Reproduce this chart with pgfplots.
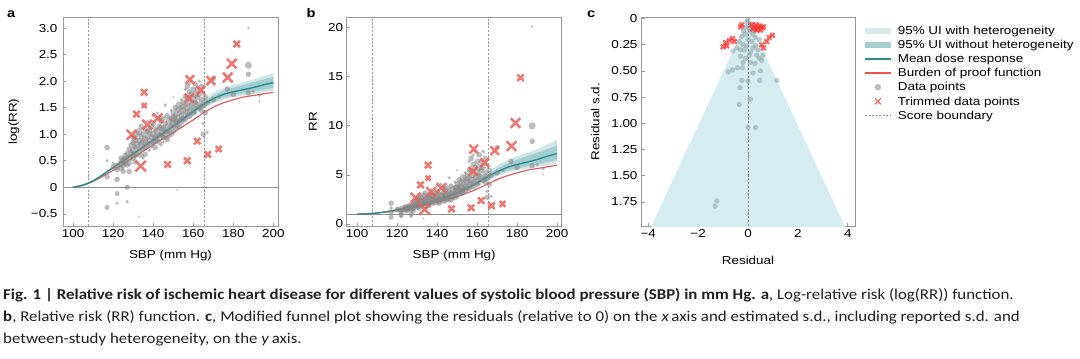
\documentclass[border=0pt]{standalone}
\usepackage{fontspec}
\setmainfont{Liberation Sans}[FakeStretch=1.17]
\newfontfamily\capfont{Carlito}[FakeStretch=1.125]
\usepackage{pgfplots}
\pgfplotsset{compat=1.18}
\usepackage{pgfplotstable}

\definecolor{meanc}{HTML}{1F8A8A}
\definecolor{bopc}{HTML}{E06060}
\definecolor{band1}{HTML}{CFE5E7}
\definecolor{band2}{HTML}{A3CDCF}
\definecolor{ptc}{HTML}{858585}
\definecolor{trimc}{HTML}{EC5F58}
\definecolor{framec}{HTML}{9A9A9A}
\definecolor{funnelc}{HTML}{D5EDF1}
\definecolor{trimc2}{HTML}{FF3030}
\definecolor{ptc2}{HTML}{8FA3A6}
\definecolor{captc}{HTML}{231F20}
\definecolor{legband1}{HTML}{D8E9EA}
\definecolor{legband2}{HTML}{A6CFD0}
\definecolor{legmean}{HTML}{2A8A8A}
\definecolor{legred}{HTML}{F45050}
\definecolor{legdot}{HTML}{BDBDBD}
\definecolor{legx}{HTML}{FF6060}
\definecolor{legdash}{HTML}{8C8C8C}

\newcommand\ticksize{\fontsize{11.5}{13}\selectfont}
\newcommand\labsize{\fontsize{11.5}{13}\selectfont}

\pgfplotstableread{
x mean bop
100 0 0
105 0.04 0.04
110 0.12 0.11
115 0.24 0.21
120 0.37 0.32
125 0.50 0.44
130 0.63 0.56
135 0.76 0.68
140 0.89 0.80
145 1.02 0.92
150 1.15 1.03
155 1.29 1.15
160 1.43 1.27
165 1.56 1.40
170 1.67 1.51
175 1.75 1.59
180 1.80 1.65
185 1.84 1.70
190 1.88 1.73
195 1.93 1.76
200 1.97 1.79
}\curves

% band with heterogeneity: upper edge 100->200, lower edge 200->100
\pgfplotstableread{
x y
100 0
110 0.125
120 0.395
130 0.665
140 0.935
150 1.21
155 1.36
160 1.51
165 1.65
170 1.78
175 1.87
180 1.93
185 1.98
190 2.03
195 2.09
200 2.15
200 1.82
195 1.79
190 1.76
185 1.73
180 1.70
175 1.65
170 1.58
165 1.48
160 1.35
155 1.22
150 1.09
140 0.845
130 0.595
120 0.345
110 0.115
100 0
}\bandA

% band without heterogeneity
\pgfplotstableread{
x y
100 0
110 0.122
120 0.38
130 0.645
140 0.91
150 1.175
155 1.32
160 1.47
165 1.61
170 1.73
175 1.82
180 1.88
185 1.93
190 1.98
195 2.03
200 2.08
200 1.87
195 1.84
190 1.80
185 1.77
180 1.73
175 1.69
170 1.61
165 1.51
160 1.39
155 1.26
150 1.125
140 0.87
130 0.615
120 0.36
110 0.118
100 0
}\bandB

\pgfplotstableread{
x y s
117 0.75 2.8
117 0.5 1.8
117 0.2 2.8
117 -0.38 2.6
120 0.38 2.8
120 0.45 1.8
122 0.15 2.8
122 -0.12 2.6
122 -0.30 1.8
122 0.40 3.6
122 0.33 2.8
124 0.45 3.6
124 0.55 2.8
124 0.36 2.8
125 0.50 3.6
125 0.40 2.8
125 0.30 2.8
126 0.60 2.8
126 0.52 3.6
126 0.45 2.8
127 0.0 2.6
127 -0.27 1.8
127 0.42 2.8
127 0.64 2.8
128 0.55 3.6
128 0.72 2.8
128 0.45 2.8
128 0.30 2.8
129 0.65 2.8
129 0.80 2.8
130 0.85 2.8
130 0.70 3.6
130 0.55 2.8
130 0.62 2.8
130 0.95 2.8
131 0.90 3.6
131 0.76 2.8
131 0.48 2.8
131 0.60 2.8
132 0.80 3.6
132 1.00 2.8
132 0.62 2.8
133 0.70 2.8
133 1.05 3.6
133 0.88 2.8
133 -0.55 1.0
134 0.95 2.8
134 0.60 2.8
134 1.15 2.8
134 0.80 3.6
135 0.85 3.6
135 1.00 2.8
135 0.72 2.8
135 0.55 1.8
136 1.10 2.8
136 0.90 3.6
136 0.75 2.8
136 0.62 2.8
137 0.95 2.8
137 0.80 2.8
137 1.25 1.8
137 1.05 2.8
138 1.05 3.6
138 0.88 2.8
138 0.70 1.8
139 1.15 2.8
139 0.95 2.8
139 0.80 3.6
140 1.00 3.6
140 0.85 2.8
140 1.20 2.8
140 1.35 1.8
141 0.95 2.8
141 1.10 2.8
141 0.75 2.8
141 0.88 3.6
142 1.05 3.6
142 0.90 2.8
142 1.40 1.8
143 1.15 2.8
143 0.98 2.8
143 0.85 2.8
143 1.30 2.8
144 1.00 2.8
144 1.25 2.8
144 0.80 1.8
144 1.12 3.6
145 1.10 3.6
145 0.95 2.8
145 1.30 2.8
145 0.85 1.8
146 1.20 2.8
146 1.05 2.8
146 1.55 1.8
146 0.95 3.6
147 1.15 2.8
147 0.90 2.8
147 1.35 2.8
147 1.05 2.8
148 1.25 3.6
148 1.05 2.8
148 0.95 1.8
149 1.30 2.8
149 1.15 2.8
149 1.45 1.8
149 1.00 2.8
150 1.20 3.6
150 1.40 2.8
150 1.05 2.8
150 1.70 1.0
150 1.30 3.6
151 1.35 2.8
151 1.50 2.8
151 1.25 2.8
151 1.12 2.8
152 1.30 3.6
152 1.45 2.8
152 -0.05 1.0
152 1.15 2.8
153 1.40 2.8
153 1.55 3.6
153 1.25 2.8
153 1.15 2.8
154 1.50 2.8
154 1.35 2.8
154 1.65 1.8
154 1.25 3.6
155 1.45 3.6
155 1.60 2.8
155 1.30 2.8
156 1.55 2.8
156 1.40 2.8
156 1.85 1.8
156 1.28 2.8
156 1.70 2.8
157 1.50 3.6
157 1.70 2.8
157 1.90 2.8
158 1.60 2.8
158 1.45 2.8
158 1.95 1.8
158 1.35 3.6
158 1.80 2.8
159 1.55 2.8
159 1.75 2.8
159 2.00 1.8
160 1.65 3.6
160 1.50 2.8
160 1.85 2.8
160 1.40 2.8
161 1.60 2.8
161 1.95 2.8
161 1.40 1.8
161 1.75 3.6
162 1.70 2.8
162 1.55 3.6
162 1.85 2.8
163 1.75 2.8
163 1.50 2.8
163 2.00 1.8
164 1.65 2.8
164 1.45 2.8
164 1.90 2.8
165 1.55 3.6
165 1.00 2.8
165 1.80 1.8
165 1.20 1.8
166 1.40 2.8
166 1.70 2.8
167 1.60 2.8
167 1.04 1.8
170 2.05 2.8
170 1.65 2.8
173 1.70 1.8
177 1.85 2.8
180 1.75 2.8
187.5 3.00 1.3
187.5 2.30 3.6
187.5 2.13 2.8
187.5 1.78 2.8
190 1.80 1.8
193 1.73 1.8
193 1.62 1.0
}\grayA

\pgfplotstableread{
x y s
129.2 0.99 6.8
131.7 1.38 4.5
135.5 1.79 4.5
135.5 1.54 3.4
137 1.18 6.8
142.2 1.30 6.8
133.8 0.40 7.4
147.2 0.43 4.5
157 0.50 4.5
158 1.68 6.1
158.3 2.03 6.1
163.8 1.83 6.1
162 0.87 4.5
167.2 0.62 4.5
168.8 2.01 6.1
172.7 0.72 4.1
177.2 2.07 6.8
179.2 2.33 6.8
181.7 2.70 4.5
}\trimA

\pgfplotstableread{
r sd
1.15 0.59
0.31 1.04
0.0 1.04
0.1 0.77
-0.35 0.82
-0.32 0.66
-0.25 0.59
0.0 0.60
-1.25 1.74
-1.32 1.79
0.47 0.59
0.2 0.52
0.5 0.50
-0.79 0.51
-0.62 0.49
-0.42 0.47
-0.22 0.47
0.28 0.43
0.45 0.38
0.55 0.40
-0.1 0.38
-0.3 0.36
0.1 0.32
-0.6 0.31
0.4 0.30
-0.15 0.30
0.05 0.35
-0.45 0.28
0.3 0.26
-0.2 0.25
0.15 0.22
-0.35 0.22
0.45 0.20
0.0 0.20
-0.1 0.15
0.2 0.15
-0.25 0.17
0.3 0.18
0.05 0.10
-0.1 0.08
0.12 0.05
-0.05 0.03
0.0 0.01
0.08 0.12
-0.18 0.12
0.25 0.12
-0.3 0.30
0.2 0.28
-0.05 0.26
0.1 0.42
-0.2 0.42
0.35 0.35
0.6 0.35
}\grayC

\pgfplotstableread{
r sd
0.15 0.06
0.25 0.08
0.32 0.06
0.40 0.09
0.48 0.07
0.55 0.09
0.62 0.08
0.35 0.11
0.20 0.10
0.50 0.11
-1.00 0.27
-0.90 0.23
-0.75 0.21
-0.62 0.19
-0.55 0.22
-0.85 0.26
0.98 0.16
0.85 0.18
0.75 0.22
0.62 0.28
0.55 0.25
-0.30 0.08
-0.25 0.06
}\trimC

\pgfplotsset{
  panel/.style={
    scale only axis, width=215pt, height=208.5pt, anchor=south west,
    axis line style={framec, line width=0.7pt},
    tick align=inside, tick pos=left,
    major tick length=3.5pt,
    every tick/.style={framec, line width=0.6pt},
    tick label style={font=\ticksize, black},
    label style={font=\labsize},
    /pgf/number format/assume math mode=true,
  },
}

\begin{document}
\begin{tikzpicture}
\useasboundingbox (0,0) rectangle (1080pt,-359pt);

% ---------- panel a ----------
\begin{axis}[panel, at={(63pt,-226pt)},
  xmin=95, xmax=202.3, ymin=-0.73, ymax=3.2,
  xtick={100,120,140,160,180,200},
  ytick={-0.5,0,0.5,1,1.5,2,2.5,3},
  yticklabels={−0.5,0,0.5,1.0,1.5,2.0,2.5,3.0},
  yticklabel style={xshift=-2pt},
  xlabel={SBP (mm Hg)}, ylabel={log(RR)},
  xlabel style={at={(axis description cs:0.5,-0.1535)}, anchor=base},
  ylabel style={at={(axis description cs:-0.228,0.5)}, anchor=center},
]
\addplot[fill=band1, draw=none] table[x=x,y=y] \bandA -- cycle;
\addplot[fill=band2, draw=none] table[x=x,y=y] \bandB -- cycle;
\addplot[color=ptc!90, line width=0.8pt] coordinates {(95,0) (202.3,0)};
\addplot[color=framec, line width=0.7pt, dash pattern=on 2.2pt off 1.6pt] coordinates {(107.5,-0.73) (107.5,3.2)};
\addplot[color=framec, line width=0.7pt, dash pattern=on 2.2pt off 1.6pt] coordinates {(165.5,-0.73) (165.5,3.2)};
\addplot[scatter, only marks, mark=*,
    visualization depends on={\thisrow{s}\as\msz},
    scatter/use mapped color={draw opacity=0, fill=ptc, fill opacity=0.55},
    scatter/@pre marker code/.append style={/tikz/mark size=\msz}] table[x=x,y=y] \grayA;
\addplot[bopc, line width=1.2pt, smooth] table[x=x,y=bop] \curves;
\addplot[meanc, line width=1.3pt, smooth] table[x=x,y=mean] \curves;
\addplot[scatter, only marks, mark=x,
    visualization depends on={\thisrow{s}\as\msz},
    scatter/use mapped color={draw=trimc, draw opacity=0.85, line width=2.5pt},
    scatter/@pre marker code/.append style={/tikz/mark size=\msz}] table[x=x,y=y] \trimA;
\end{axis}

% ---------- panel b ----------
\begin{axis}[panel, at={(346.7pt,-226pt)},
  xmin=94.8, xmax=202.3, ymin=-0.2, ymax=21,
  xtick={100,120,140,160,180,200},
  ytick={0,5,10,15,20},
  xlabel={SBP (mm Hg)}, ylabel={RR},
  xlabel style={at={(axis description cs:0.5,-0.1535)}, anchor=base},
  ylabel style={at={(axis description cs:-0.157,0.5)}, anchor=center},
]
\addplot[fill=band1, draw=none] table[x=x,y expr={exp(\thisrow{y})}] \bandA -- cycle;
\addplot[fill=band2, draw=none] table[x=x,y expr={exp(\thisrow{y})}] \bandB -- cycle;
\addplot[color=ptc!90, line width=0.8pt] coordinates {(94.8,1) (202.3,1)};
\addplot[color=framec, line width=0.7pt, dash pattern=on 2.2pt off 1.6pt] coordinates {(107.5,-0.2) (107.5,21)};
\addplot[color=framec, line width=0.7pt, dash pattern=on 2.2pt off 1.6pt] coordinates {(165.5,-0.2) (165.5,21)};
\addplot[scatter, only marks, mark=*,
    visualization depends on={\thisrow{s}\as\msz},
    scatter/use mapped color={draw opacity=0, fill=ptc, fill opacity=0.55},
    scatter/@pre marker code/.append style={/tikz/mark size=\msz}] table[x=x,y expr={exp(\thisrow{y})}] \grayA;
\addplot[bopc, line width=1.2pt, smooth] table[x=x,y expr={exp(\thisrow{bop})}] \curves;
\addplot[meanc, line width=1.3pt, smooth] table[x=x,y expr={exp(\thisrow{mean})}] \curves;
\addplot[scatter, only marks, mark=x,
    visualization depends on={\thisrow{s}\as\msz},
    scatter/use mapped color={draw=trimc, draw opacity=0.85, line width=2.5pt},
    scatter/@pre marker code/.append style={/tikz/mark size=\msz}] table[x=x,y expr={exp(\thisrow{y})}] \trimA;
\end{axis}

% ---------- panel c ----------
\begin{axis}[panel, at={(641pt,-226pt)}, width=214pt,
  xmin=-4.29, xmax=4.29, ymin=-0.01, ymax=1.98, y dir=reverse,
  xtick={-4,-2,0,2,4}, xticklabels={−4,−2,0,2,4},
  ytick={0,0.25,0.5,0.75,1,1.25,1.5,1.75},
  yticklabels={0,0.25,0.50,0.75,1.00,1.25,1.50,1.75},
  xlabel={Residual}, ylabel={Residual s.d.},
  xlabel style={at={(axis description cs:0.5,-0.187)}, anchor=base},
  ylabel style={at={(axis description cs:-0.214,0.5)}, anchor=center},
  legend style={draw=none, fill=none, inner sep=0pt, outer sep=0pt,
    at={(axis description cs:1,1)}, anchor=north west, xshift=10pt, yshift=-7pt,
    font=\fontsize{11.5}{13}\selectfont,
    nodes={inner sep=0pt, text height=9.7pt, text depth=4.47pt, anchor=base west},
    /tikz/every odd column/.append style={column sep=7pt}},
  legend cell align=left,
]
\addlegendimage{legend image code/.code={\fill[legband1] (0pt,1.2pt) rectangle (25pt,6.2pt);}}
\addlegendentry{95\% UI with heterogeneity}
\addlegendimage{legend image code/.code={\fill[legband2] (0pt,0.8pt) rectangle (25pt,6.6pt);}}
\addlegendentry{95\% UI without heterogeneity}
\addlegendimage{legend image code/.code={\fill[legmean] (0pt,3.1pt) rectangle (25pt,4.3pt);}}
\addlegendentry{Mean dose response}
\addlegendimage{legend image code/.code={\fill[legred] (0pt,3.1pt) rectangle (25pt,4.3pt);}}
\addlegendentry{Burden of proof function}
\addlegendimage{legend image code/.code={\fill[legdot] (12.5pt,3.7pt) circle (3pt);}}
\addlegendentry{Data points}
\addlegendimage{legend image code/.code={\draw[draw=legx, line width=1.1pt] (9.5pt,0.7pt) -- (15.5pt,6.7pt) (9.5pt,6.7pt) -- (15.5pt,0.7pt);}}
\addlegendentry{Trimmed data points}
\addlegendimage{legend image code/.code={\draw[draw=legdash, line width=0.8pt, dash pattern=on 2pt off 1.5pt] (0pt,3.7pt) -- (25pt,3.7pt);}}
\addlegendentry{Score boundary}
\addplot[fill=funnelc, draw=none] coordinates {(0,0) (-3.92,2.0) (3.92,2.0)} -- cycle;
\addplot[color=ptc, line width=0.8pt, dash pattern=on 2.2pt off 1.6pt] coordinates {(0,0) (0,1.98)};
\addplot[only marks, mark=*, mark size=2.7pt, mark options={draw opacity=0, fill=ptc2, fill opacity=0.55}] table[x=r,y=sd] \grayC;
\addplot[only marks, mark=x, mark size=3.2pt, mark options={draw=trimc2, draw opacity=0.75, line width=2pt}] table[x=r,y=sd] \trimC;
\end{axis}

% panel letters
\node[anchor=base west, inner sep=0, font=\bfseries\fontsize{12.5}{13}\selectfont] at (7pt,-17pt) {a};
\node[anchor=base west, inner sep=0, font=\bfseries\fontsize{12.5}{13}\selectfont] at (306.5pt,-17pt) {b};
\node[anchor=base west, inner sep=0, font=\bfseries\fontsize{12.5}{13}\selectfont] at (587pt,-17pt) {c};

% caption
\begin{scope}[every node/.style={anchor=base west, inner sep=0, text=captc, font=\capfont\fontsize{15}{18}\selectfont}]
\node at (3pt,-299pt) {\textbf{Fig. 1 | Relative risk of ischemic heart disease for different values of systolic blood pressure (SBP) in mm Hg. a}, Log-relative risk (log(RR)) function.};
\node at (3pt,-321.5pt) {\textbf{b}, Relative risk (RR) function. \textbf{c}, Modified funnel plot showing the residuals (relative to 0) on the \textit{x}\,axis and estimated s.d., including reported s.d. and};
\node at (3pt,-343.5pt) {between-study heterogeneity, on the \textit{y}\,axis.};
\end{scope}
\end{tikzpicture}
\end{document}
